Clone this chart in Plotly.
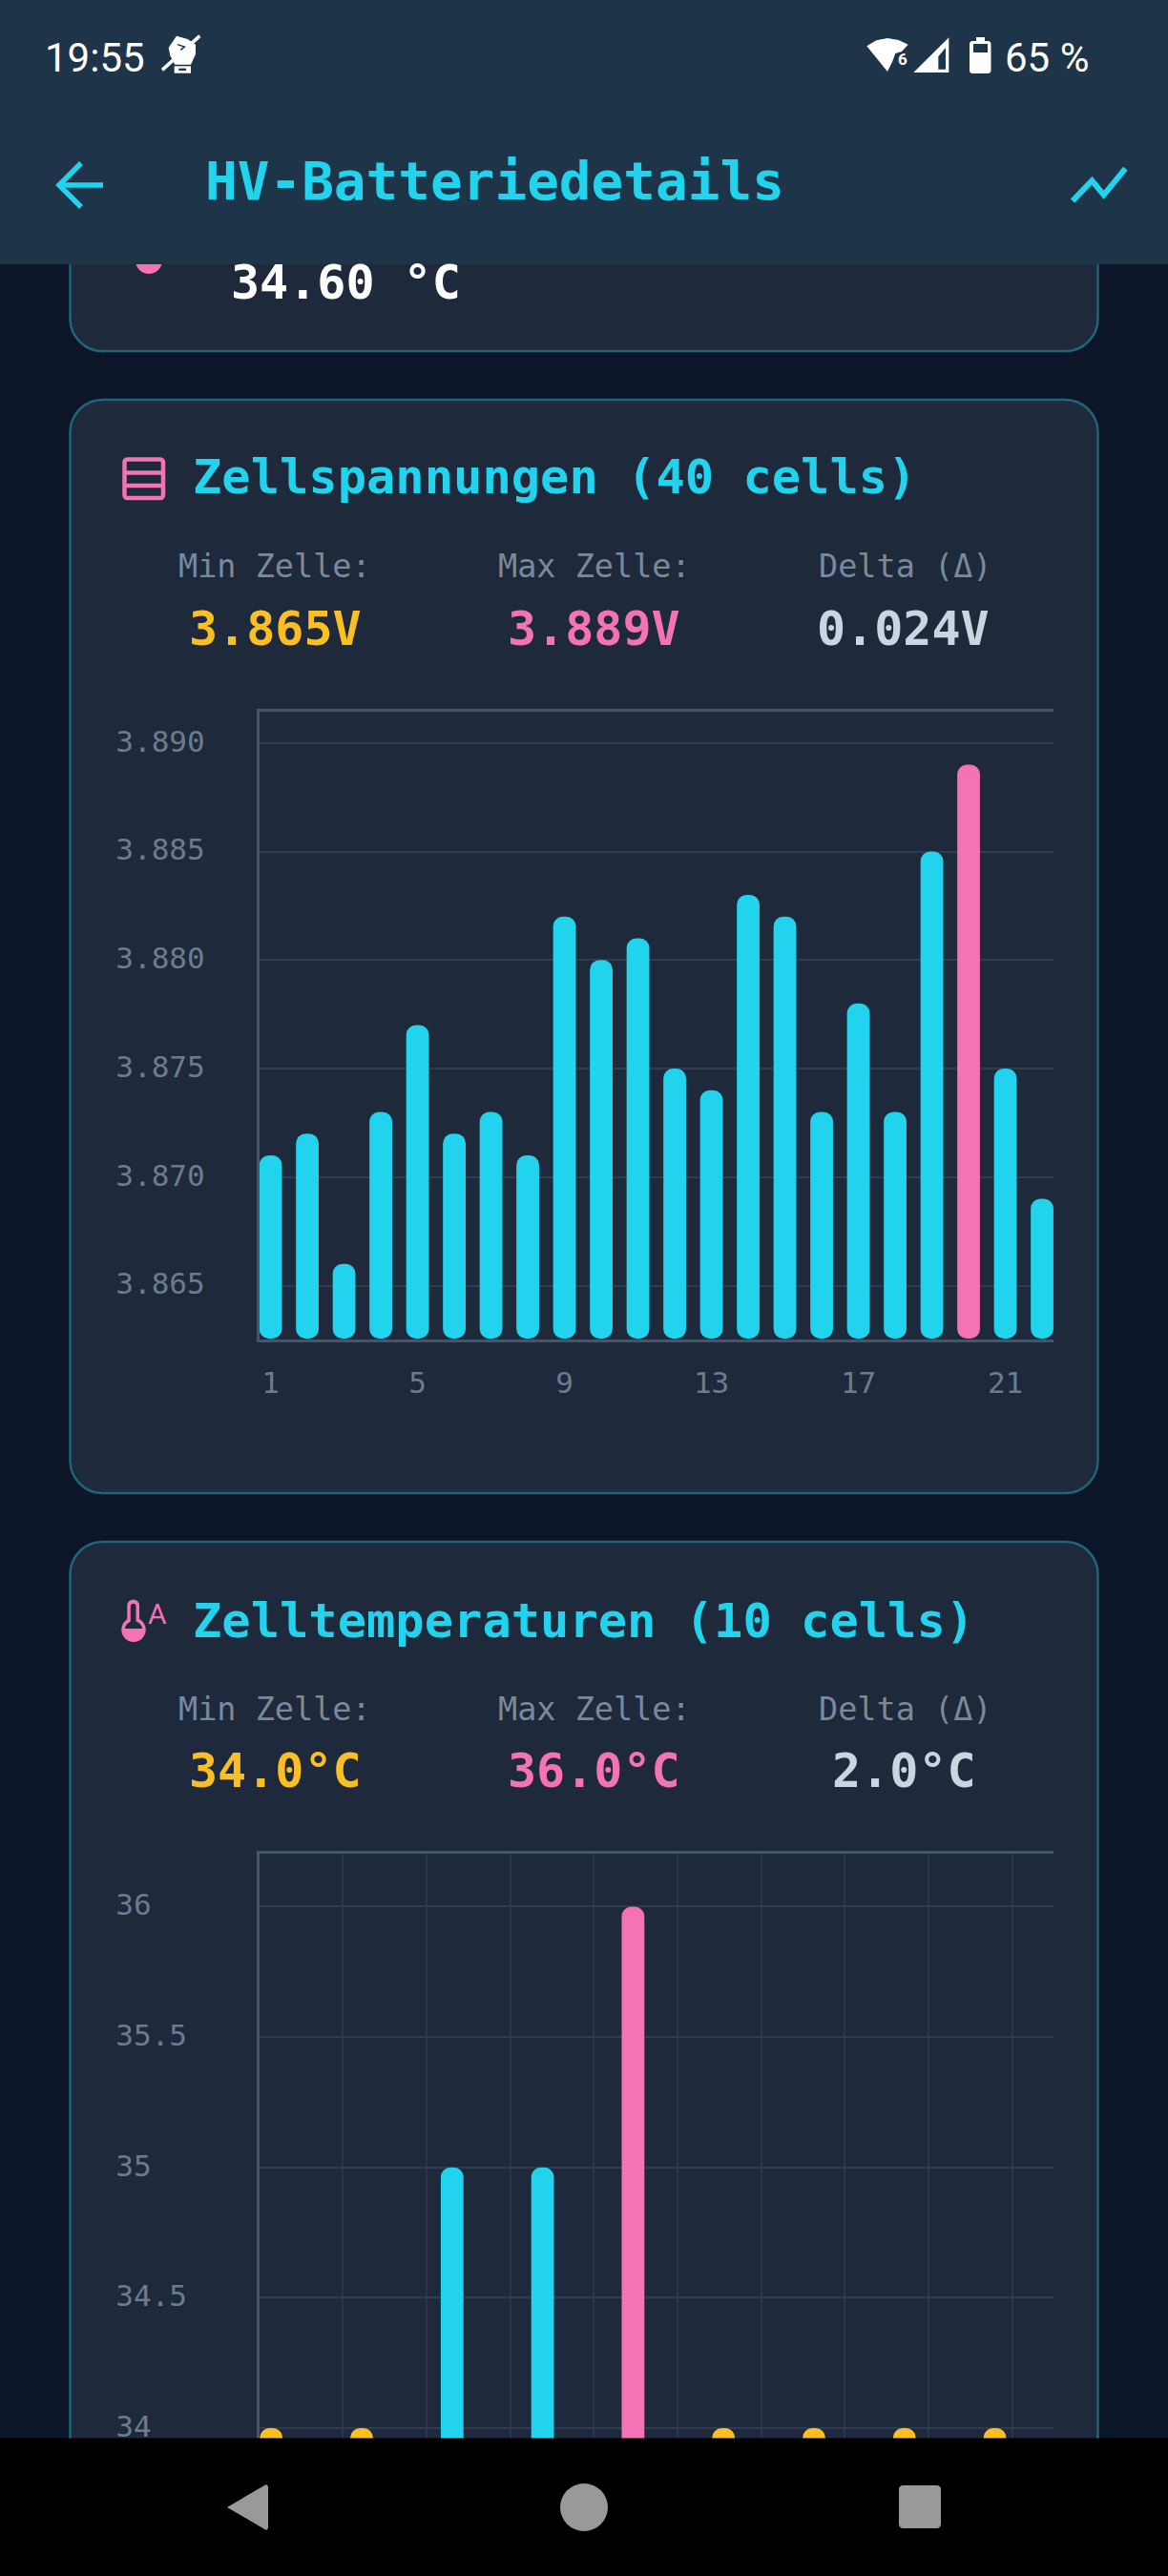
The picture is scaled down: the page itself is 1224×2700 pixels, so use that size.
import plotly.graph_objects as go

# ── Data ───────────────────────────────────────────────────────────
CELLS_V = list(range(1, 23))
VOLTS = [3.871, 3.872, 3.866, 3.873, 3.877, 3.872, 3.873, 3.871, 3.882, 3.880, 3.881,
         3.875, 3.874, 3.883, 3.882, 3.873, 3.878, 3.873, 3.885, 3.889, 3.875, 3.869]
V_TICKS = [3.890, 3.885, 3.880, 3.875, 3.870, 3.865]
V_XTICKS = [1, 5, 9, 13, 17, 21]
MIN_V, MAX_V = 3.865, 3.889

CELLS_T = list(range(1, 10))
TEMPS = [34.0, 34.0, 35.0, 35.0, 36.0, 34.0, 34.0, 34.0, 34.0]
T_TICKS = [36, 35.5, 35, 34.5, 34]
MIN_T, MAX_T = 34.0, 36.0

STATS_V = ["3.865V", "3.889V", "0.024V"]
STATS_T = ["34.0°C", "36.0°C", "2.0°C"]
# ───────────────────────────────────────────────────────────────────

W, H = 1224, 2700
MONO = "DejaVu Sans Mono"

BG = "#0d1528"
CARD = "#1e293b"
BORDER = "#1f6579"
HEADER = "#1e3448"
CYAN = "#22d3ee"
PINK = "#f472b6"
AMBER = "#fbbf24"
SLATE = "#cbd5e1"
MUTED = "#7c899b"
TICK = "#6e7b8e"
AXIS = "#475569"
GRID = "#2f3c4f"
GRID2 = "#2a3649"


def px(x):
    return x / W


def py(y):
    return 1 - y / H


def path(points, close=True):
    d = "M " + " L ".join(f"{px(x):.5f},{py(y):.5f}" for x, y in points)
    return d + (" Z" if close else "")


def round_rect(x0, y0, x1, y1, r):
    k = r * 0.45
    seg = [
        ("M", [(x0 + r, y0)]), ("L", [(x1 - r, y0)]),
        ("C", [(x1 - k, y0), (x1, y0 + k), (x1, y0 + r)]), ("L", [(x1, y1 - r)]),
        ("C", [(x1, y1 - k), (x1 - k, y1), (x1 - r, y1)]), ("L", [(x0 + r, y1)]),
        ("C", [(x0 + k, y1), (x0, y1 - k), (x0, y1 - r)]), ("L", [(x0, y0 + r)]),
        ("C", [(x0, y0 + k), (x0 + k, y0), (x0 + r, y0)]),
    ]
    return " ".join(c + " " + " ".join(f"{px(a):.5f},{py(b):.5f}" for a, b in pts) for c, pts in seg) + " Z"


def shape_path(d, fill=None, line=None, width=0, layer="above"):
    return dict(type="path", xref="paper", yref="paper", path=d, layer=layer,
                fillcolor=fill or "rgba(0,0,0,0)",
                line=dict(color=line or "rgba(0,0,0,0)", width=width))


def oval(x0, y0, x1, y1, fill, layer="above"):
    return dict(type="circle", xref="paper", yref="paper", layer=layer, fillcolor=fill, line=dict(width=0),
                x0=px(x0), x1=px(x1), y0=py(y1), y1=py(y0))


def label(text, x, y, size, color, bold=False, anchor="center", family=MONO):
    return dict(text=text, x=px(x), y=py(y), xref="paper", yref="paper", xanchor=anchor, yanchor="middle",
                showarrow=False, font=dict(family=family, size=size, color=color, weight=700 if bold else 400))


def zoomed(points, x0, y0, scale=3):
    # icon outlines were measured on 3x crops
    return [(x0 + a / scale, y0 + b / scale) for a, b in points]


shapes = [
    # cards
    shape_path(round_rect(73.5, 150, 1150.5, 368, 34), CARD, BORDER, 2.5, "below"),
    shape_path(round_rect(73.5, 419, 1150.5, 1565, 34), CARD, BORDER, 2.5, "below"),
    shape_path(round_rect(73.5, 1616, 1150.5, 2800, 34), CARD, BORDER, 2.5, "below"),
    oval(142, 259, 170, 287, PINK),
    # top bar and nav bar go over the scrolled content
    dict(type="rect", xref="paper", yref="paper", x0=0, x1=1, y0=py(277), y1=1, fillcolor=HEADER, line=dict(width=0), layer="above"),
    dict(type="rect", xref="paper", yref="paper", x0=0, x1=1, y0=0, y1=py(2555.5), fillcolor="#000000", line=dict(width=0), layer="above"),
    # nav buttons
    shape_path(path([(238, 2628), (279, 2604), (281, 2606), (281, 2650), (279, 2652)]), "#999999"),
    oval(587, 2603, 637, 2653, "#999999"),
    shape_path(round_rect(942, 2605, 986, 2650, 4), "#999999"),
    # back arrow
    shape_path(path([(108, 194), (63, 194)], False), None, CYAN, 5.5),
    shape_path(path([(85, 171), (62, 194), (85, 217)], False), None, CYAN, 5.5),
    # trend icon
    shape_path(path(zoomed([(72, 152), (133, 88), (170, 133), (238, 50)], 1100, 160), False), None, CYAN, 6),
    # usb / hand icon
    shape_path(path(zoomed([(80, 75), (105, 38), (140, 48), (165, 65), (165, 95), (150, 128), (100, 128), (85, 100)], 150, 25)), "#ffffff"),
    shape_path(path(zoomed([(60, 145), (178, 38)], 150, 25), False), None, "#ffffff", 3.5),
    shape_path(path(zoomed([(108, 65), (130, 72), (118, 82)], 150, 25), False), None, HEADER, 1.5),
    shape_path(path(zoomed([(98, 133), (150, 133), (150, 155), (98, 155)], 150, 25)), "#ffffff"),
    shape_path(path(zoomed([(112, 140), (135, 140), (135, 147), (112, 147)], 150, 25)), HEADER),
    # wifi, signal, battery
    shape_path(path(zoomed([(25, 55), (55, 37), (90, 30), (125, 36), (155, 50), (135, 72), (115, 78), (105, 105), (90, 135)], 900, 30)), "#ffffff"),
    shape_path(path(zoomed([(172, 138), (283, 28), (283, 138)], 900, 30)), "#ffffff"),
    shape_path(path(zoomed([(250, 88), (273, 60), (273, 128), (250, 128)], 900, 30)), HEADER),
    shape_path(round_rect(1016, 43, 1038.5, 77, 3), "#ffffff"),
    shape_path(path([(1023, 39), (1032, 39), (1032, 44), (1023, 44)]), "#ffffff"),
    shape_path(path([(1020, 46), (1035, 46), (1035, 55), (1020, 55)]), HEADER),
    # battery-cells icon
    shape_path(round_rect(130.5, 481.5, 171, 522, 3), None, PINK, 4.5),
    shape_path(path([(130, 495.5), (171, 495.5)], False), None, PINK, 4.5),
    shape_path(path([(130, 509), (171, 509)], False), None, PINK, 4.5),
    # thermometer icon
    shape_path(round_rect(133.3, 1676.7, 146, 1712, 6), PINK),
    oval(127.3, 1695.6, 152.7, 1721, PINK),
    shape_path(round_rect(136.8, 1680.7, 142.5, 1708, 2.8), CARD),
    oval(130.8, 1699, 149.2, 1717.5, CARD),
    shape_path(path([(129, 1707), (151, 1707), (149, 1716), (144, 1720), (136, 1720), (131, 1716)]), PINK),
]

annotations = [
    label("19:55", 45, 60, 42, "#ffffff", family="Roboto", anchor="left"),
    label("65 %", 1051, 60, 42, "#ffffff", family="Roboto", anchor="left"),
    label("6", 945.5, 62.5, 17, "#ffffff", True, family="Roboto"),
    label("HV-Batteriedetails", 213, 189, 56, CYAN, True, "left"),
    label("34.60 °C", 240, 296, 50, "#ffffff", True, "left"),
    label("Zellspannungen (40 cells)", 200, 500, 50.4, CYAN, True, "left"),
    label("Zelltemperaturen (10 cells)", 200, 1698, 50.4, CYAN, True, "left"),
    label("A", 165, 1691, 30, PINK, family="Roboto"),
]
for y_lab, y_val, stats, centers in [(593, 659, STATS_V, (288, 622, 946)), (1791, 1856, STATS_T, (288, 622, 947))]:
    for text, cx in zip(["Min Zelle:", "Max Zelle:", "Delta (Δ)"], (287.5, 623, 949)):
        annotations.append(label(text, cx, y_lab, 33.5, MUTED))
    for text, cx, color in zip(stats, centers, [AMBER, PINK, SLATE]):
        annotations.append(label(text, cx, y_val, 50, color, True))


def pad(text, width=8):
    # tick labels sit left aligned in the app, mono font so padding does it
    return str(text) + "\u00a0" * (width - len(str(text)))


def bar_colors(values, lo, hi):
    return [PINK if v == hi else AMBER if v == lo else CYAN for v in values]


fig = go.Figure()

# with a base set plotly rounds both ends of the bar
V_BOTTOM = 3.86256
fig.add_trace(go.Bar(x=CELLS_V, y=[v - V_BOTTOM for v in VOLTS], base=V_BOTTOM, width=0.618,
                     marker=dict(color=bar_colors(VOLTS, MIN_V, MAX_V), cornerradius=10, line=dict(width=0)),
                     xaxis="x", yaxis="y", hoverinfo="skip"))

T_BASE = 33.796
fig.add_trace(go.Bar(x=CELLS_T, y=[t - T_BASE for t in TEMPS], base=T_BASE, width=0.251,
                     marker=dict(color=bar_colors(TEMPS, MIN_T, MAX_T), cornerradius=10, line=dict(width=0)),
                     xaxis="x2", yaxis="y2", hoverinfo="skip"))

axis_x = dict(showline=True, mirror=True, linecolor=AXIS, linewidth=2.5, zeroline=False)
axis_y = dict(showline=True, linecolor=AXIS, linewidth=2.5, zeroline=False, showgrid=True, gridwidth=2,
              tickmode="array", tickfont=dict(family=MONO, size=31, color=TICK), ticks="",
              ticklabelstandoff=-8, ticklabelshift=-2)

fig.update_layout(
    width=W, height=H,
    margin=dict(l=0, r=0, t=0, b=0),
    paper_bgcolor=BG,
    plot_bgcolor="rgba(0,0,0,0)",
    showlegend=False,
    barmode="overlay",
    font=dict(family=MONO),
    shapes=shapes,
    annotations=annotations,
    xaxis=dict(axis_x, domain=[px(271.6), px(1104)], anchor="y", range=[0.689, 22.31], showgrid=False,
               tickmode="array", tickvals=V_XTICKS, ticktext=[str(v) for v in V_XTICKS], ticks="",
               ticklabelstandoff=17, tickfont=dict(family=MONO, size=31, color=TICK)),
    yaxis=dict(axis_y, domain=[py(1403.5), py(745.8)], anchor="x", range=[3.86254, 3.89145], gridcolor=GRID,
               tickvals=V_TICKS, ticktext=[pad(f"{v:.3f}") for v in V_TICKS]),
    xaxis2=dict(axis_x, domain=[px(271.6), px(1104)], anchor="y2", range=[0.867, 9.648], showgrid=True,
                gridcolor=GRID2, gridwidth=1.5, tick0=0.867, dtick=0.925, showticklabels=False, ticks=""),
    yaxis2=dict(axis_y, domain=[py(2600.7), py(1943)], anchor="x2", range=[33.796, 36.203], gridcolor=GRID,
                tickvals=T_TICKS, ticktext=[pad(t) for t in T_TICKS]),
)

fig.write_html("out.html", config={"displayModeBar": False}, post_script="document.body.style.margin='0';")
